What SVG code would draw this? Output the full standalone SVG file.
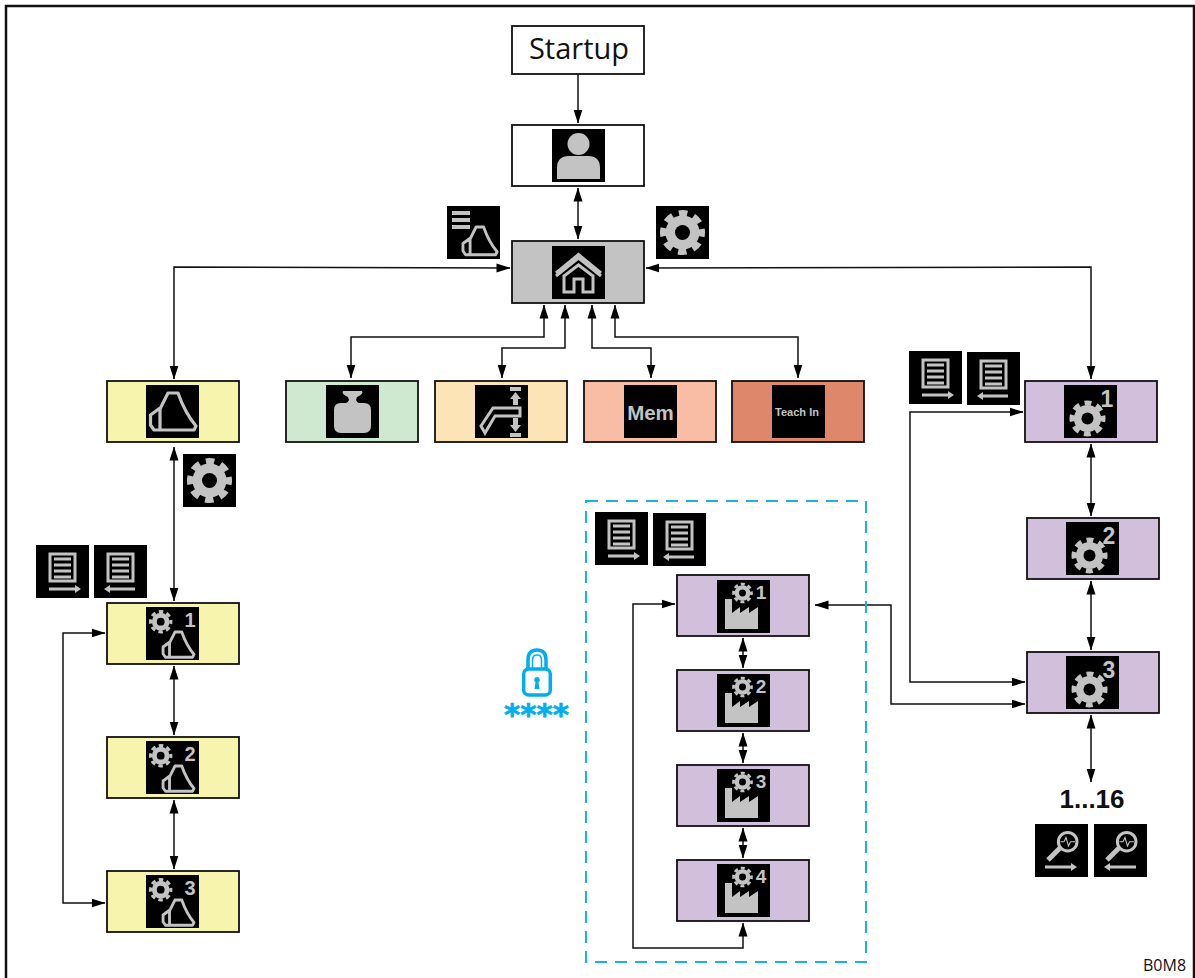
<svg xmlns="http://www.w3.org/2000/svg" xmlns:xlink="http://www.w3.org/1999/xlink" width="1195" height="978" viewBox="0 0 1195 978">
<style>
.n{stroke:#111;stroke-width:1.8}
.w{fill:#fff}.h{fill:#c3c3c3}.y{fill:#f7f5ad}.gr{fill:#cfe8d0}.o{fill:#fde4b7}.s{fill:#f9bda6}.t{fill:#de876b}.p{fill:#d1bfdc}
.c{fill:none;stroke:#111;stroke-width:1.5}
.ic{fill:#c3c3c3}
.ol{fill:none;stroke:#c3c3c3;stroke-width:3;stroke-linejoin:miter}
.arm{fill:none;stroke:#c3c3c3;stroke-linejoin:round}
.num{font-family:"Liberation Sans",Arial,sans-serif;font-weight:700;fill:#c3c3c3}
.lbl{font-family:"Open Sans","Noto Sans",sans-serif;fill:#111}
</style>
<defs>
<marker id="a" markerUnits="userSpaceOnUse" markerWidth="14" markerHeight="10" refX="13.500" refY="5" orient="auto-start-reverse"><path d="M0 .5L14 5L0 9.500Z" fill="#000"/></marker>
<g id="gear"><circle r="17" class="ic"/><circle r="19.500" fill="none" stroke="#c3c3c3" stroke-width="6" stroke-dasharray="8.600 6.715" stroke-dashoffset="4.300"/><circle r="7.500" fill="#000"/></g>
<path id="arm" class="arm" d="M22 8H32Q39 28 50 41L48 45H14V24ZM14 23L4.500 30V40L8 45H14"/>
<rect id="b" width="53" height="53" fill="#000"/>
<g id="doc"><rect x="14" y="9" width="25" height="27" class="ol"/><path class="ol" d="M18 14H35M18 20H35M18 26H35M18 32H35"/></g>
<g id="docR"><use xlink:href="#b"/><use xlink:href="#doc"/><path class="ic" d="M13 42.500H39V40L45 44L39 48V45.500H13Z"/></g>
<g id="docL"><use xlink:href="#b"/><use xlink:href="#doc"/><path class="ic" d="M41 42.500H16V40L10 44L16 48V45.500H41Z"/></g>
<g id="fact"><use xlink:href="#b"/><path class="ic" d="M8 19H15V33L23 27V33L32 27V33L41 27V49H8Z"/><use xlink:href="#gear" transform="translate(25.500 13) scale(.46)"/></g>
<g id="armg"><use xlink:href="#b"/><use xlink:href="#gear" transform="translate(14.700 14.700) scale(.52)"/><use xlink:href="#arm" stroke-width="4.200" transform="translate(14 19.600) scale(.68)"/></g>
<g id="mag"><circle cx="32.700" cy="17.700" r="9.300" class="ol"/><path fill="none" stroke="#c3c3c3" stroke-width="1.100" d="M25.500 17.700H29L31 13.500L33.500 22L35.500 17.700H40"/><path d="M13 36L25 24" stroke="#c3c3c3" stroke-width="5" fill="none"/></g>
</defs>
<rect id="frame" x="6" y="6" width="1188" height="980" fill="#fff" stroke="#111" stroke-width="2.500"/>
<g id="connectors">
<path class="c" marker-end="url(#a)" d="M578 74V123"/>
<path class="c" marker-start="url(#a)" marker-end="url(#a)" d="M578 188V239"/>
<path class="c" marker-start="url(#a)" marker-end="url(#a)" d="M510 268L174 267V379"/>
<path class="c" marker-start="url(#a)" marker-end="url(#a)" d="M646 268L1091 267V379"/>
<path class="c" marker-start="url(#a)" marker-end="url(#a)" d="M544 305V337H351V378"/>
<path class="c" marker-start="url(#a)" marker-end="url(#a)" d="M565 305V348H502V378"/>
<path class="c" marker-start="url(#a)" marker-end="url(#a)" d="M592 305V348H651V378"/>
<path class="c" marker-start="url(#a)" marker-end="url(#a)" d="M615 305V337H798V378"/>
<path class="c" marker-start="url(#a)" marker-end="url(#a)" d="M174 447V601"/>
<path class="c" marker-start="url(#a)" marker-end="url(#a)" d="M174 666V735"/>
<path class="c" marker-start="url(#a)" marker-end="url(#a)" d="M174 800V869"/>
<path class="c" marker-start="url(#a)" marker-end="url(#a)" d="M105 633H63V903H105"/>
<path class="c" marker-start="url(#a)" marker-end="url(#a)" d="M1023 412H910V682H1025"/>
<path class="c" marker-start="url(#a)" marker-end="url(#a)" d="M1091 444V516"/>
<path class="c" marker-start="url(#a)" marker-end="url(#a)" d="M1091 581V650"/>
<path class="c" marker-start="url(#a)" marker-end="url(#a)" d="M1091 715V782"/>
<path class="c" marker-start="url(#a)" marker-end="url(#a)" d="M815 605H891V704H1025"/>
<path class="c" marker-start="url(#a)" marker-end="url(#a)" d="M743 638V668"/>
<path class="c" marker-start="url(#a)" marker-end="url(#a)" d="M743 733V763"/>
<path class="c" marker-start="url(#a)" marker-end="url(#a)" d="M743 828V858"/>
<path class="c" marker-start="url(#a)" marker-end="url(#a)" d="M743 923V948H633V604H675"/>
</g>
<g id="n-startup"><rect class="n w" x="512" y="26" width="132" height="48"/><text class="lbl" x="579" y="59" font-size="29" text-anchor="middle">Startup</text></g>
<g id="n-user"><rect class="n w" x="512" y="125" width="132" height="61"/><g transform="translate(552 129)"><use xlink:href="#b"/><circle class="ic" cx="26.500" cy="15" r="11"/><path class="ic" d="M5 50V39Q5 27 17 27H36Q48 27 48 39V50Z"/></g></g>
<g id="n-home"><rect class="n h" x="512" y="241" width="132" height="62"/><g transform="translate(552 246)"><use xlink:href="#b"/><path class="ol" d="M4 30L26.500 12L49 30"/><path class="ol" d="M4 27L26.500 8.500L49 27" stroke-width="2"/><path class="ol" d="M12 30V46H22V33H31V46H41V30L26.500 19Z"/></g></g>
<g id="i-mode" transform="translate(447 206)"><use xlink:href="#b"/><path class="ic" d="M5 5H23V9H5ZM5 12H23V16H5ZM5 19H23V23H5Z"/><use xlink:href="#arm" stroke-width="3.800" transform="translate(12.600 15) scale(.75)"/></g>
<g id="i-gear" transform="translate(656 206)"><use xlink:href="#b"/><use xlink:href="#gear" transform="translate(26.500 26.500)"/></g>
<g id="n-arm"><rect class="n y" x="107" y="381" width="132" height="61"/><g transform="translate(146 385)"><use xlink:href="#b"/><use xlink:href="#arm" stroke-width="3.200"/></g></g>
<g id="n-weight"><rect class="n gr" x="286" y="381" width="132" height="61"/><g transform="translate(326 385)"><use xlink:href="#b"/><path class="ic" d="M17 6H36Q38 9 31 12L30 15Q31 18 33 18H38Q45 18 45 25V41Q45 48 38 48H15Q8 48 8 41V25Q8 18 15 18H20Q22 18 23 15L22 12Q15 9 17 6Z"/></g></g>
<g id="n-speed"><rect class="n o" x="435" y="381" width="132" height="61"/><g transform="translate(475 385)"><use xlink:href="#b"/><path class="ic" d="M35 2H46V6H35ZM40.500 7L46 14H43V20H38V14H35ZM38 33H43V40H46L40.500 47L35 40H38ZM35 48H46V52H35Z"/><path class="ol" d="M45 23H18L6 41L10 48L20 31H45Z"/></g></g>
<g id="n-mem"><rect class="n s" x="584" y="381" width="132" height="61"/><g transform="translate(624 385)"><use xlink:href="#b"/><text class="num" x="26.500" y="35" font-size="20.500" text-anchor="middle">Mem</text></g></g>
<g id="n-teach"><rect class="n t" x="732" y="381" width="132" height="61"/><g transform="translate(772 385)"><use xlink:href="#b"/><text class="num" x="25" y="31" font-size="11" text-anchor="middle">Teach In</text></g></g>
<g id="n-g1"><rect class="n p" x="1025" y="381" width="132" height="61"/><g transform="translate(1064 385)"><use xlink:href="#b"/><use xlink:href="#gear" transform="translate(23.500 33.500) scale(.8)"/><text class="num" x="43" y="22" font-size="23" text-anchor="middle">1</text></g></g>
<g id="n-g2"><rect class="n p" x="1027" y="518" width="132" height="61"/><g transform="translate(1066 522)"><use xlink:href="#b"/><use xlink:href="#gear" transform="translate(23.500 33.500) scale(.8)"/><text class="num" x="43" y="22" font-size="23" text-anchor="middle">2</text></g></g>
<g id="n-g3"><rect class="n p" x="1027" y="652" width="132" height="61"/><g transform="translate(1066 656)"><use xlink:href="#b"/><use xlink:href="#gear" transform="translate(23.500 33.500) scale(.8)"/><text class="num" x="43" y="22" font-size="23" text-anchor="middle">3</text></g></g>
<g id="n-a1"><rect class="n y" x="107" y="603" width="132" height="61"/><g transform="translate(146 607)"><use xlink:href="#armg"/><text class="num" x="44" y="20" font-size="20" text-anchor="middle">1</text></g></g>
<g id="n-a2"><rect class="n y" x="107" y="737" width="132" height="61"/><g transform="translate(146 741)"><use xlink:href="#armg"/><text class="num" x="44" y="20" font-size="20" text-anchor="middle">2</text></g></g>
<g id="n-a3"><rect class="n y" x="107" y="871" width="132" height="61"/><g transform="translate(146 875)"><use xlink:href="#armg"/><text class="num" x="44" y="20" font-size="20" text-anchor="middle">3</text></g></g>
<g id="n-f1"><rect class="n p" x="677" y="575" width="132" height="61"/><g transform="translate(717 580)"><use xlink:href="#fact"/><text class="num" x="44" y="19" font-size="19" text-anchor="middle">1</text></g></g>
<g id="n-f2"><rect class="n p" x="677" y="670" width="132" height="61"/><g transform="translate(717 674)"><use xlink:href="#fact"/><text class="num" x="44" y="19" font-size="19" text-anchor="middle">2</text></g></g>
<g id="n-f3"><rect class="n p" x="677" y="765" width="132" height="61"/><g transform="translate(717 769)"><use xlink:href="#fact"/><text class="num" x="44" y="19" font-size="19" text-anchor="middle">3</text></g></g>
<g id="n-f4"><rect class="n p" x="677" y="860" width="132" height="61"/><g transform="translate(717 864)"><use xlink:href="#fact"/><text class="num" x="44" y="19" font-size="19" text-anchor="middle">4</text></g></g>
<g id="i-arm-gear" transform="translate(183 454)"><use xlink:href="#b"/><use xlink:href="#gear" transform="translate(26.500 26.500)"/></g>
<use id="i-l1" xlink:href="#docR" x="36" y="545"/><use id="i-l2" xlink:href="#docL" x="94" y="545"/>
<use id="i-c1" xlink:href="#docR" x="595" y="512"/><use id="i-c2" xlink:href="#docL" x="653" y="513"/>
<use id="i-r1" xlink:href="#docR" x="909" y="351"/><use id="i-r2" xlink:href="#docL" x="967" y="352"/>
<rect id="dash" x="586" y="501" width="280" height="461" fill="none" stroke="#1bb0e8" stroke-width="2" stroke-dasharray="12 8"/>
<g id="lock" fill="none" stroke="#00aeef"><path stroke-width="3.500" d="M528 669V660Q528 650 537 650Q546 650 546 660V669"/><path stroke-width="1.500" d="M532.500 668V660Q532.500 655 537 655Q541.500 655 541.500 660V668"/><rect x="523.700" y="669" width="26.600" height="26" rx="5" stroke-width="3.500"/><path fill="#00aeef" stroke="none" d="M537 677a3 3 0 0 1 1.500 5.500L539.500 689H534.500L535.500 682.500A3 3 0 0 1 537 677Z"/></g>
<text id="stars" x="536.500" y="725" font-family="'DejaVu Sans',sans-serif" font-weight="700" font-size="31" fill="#00aeef" stroke="#00aeef" stroke-width=".7" text-anchor="middle">****</text>
<text id="range" x="1092" y="808" font-family="'Liberation Sans',Arial,sans-serif" font-weight="700" font-size="26" fill="#111" text-anchor="middle">1...16</text>
<g id="i-s1" transform="translate(1035 824)"><use xlink:href="#b"/><use xlink:href="#mag"/><path class="ic" d="M10 41.500H36V39L42 43L36 47V44.500H10Z"/></g>
<g id="i-s2" transform="translate(1094 824)"><use xlink:href="#b"/><use xlink:href="#mag"/><path class="ic" d="M42 41.500H16V39L10 43L16 47V44.500H42Z"/></g>
<text id="code" x="1143" y="971" class="lbl" font-size="16">B0M8</text>
</svg>
